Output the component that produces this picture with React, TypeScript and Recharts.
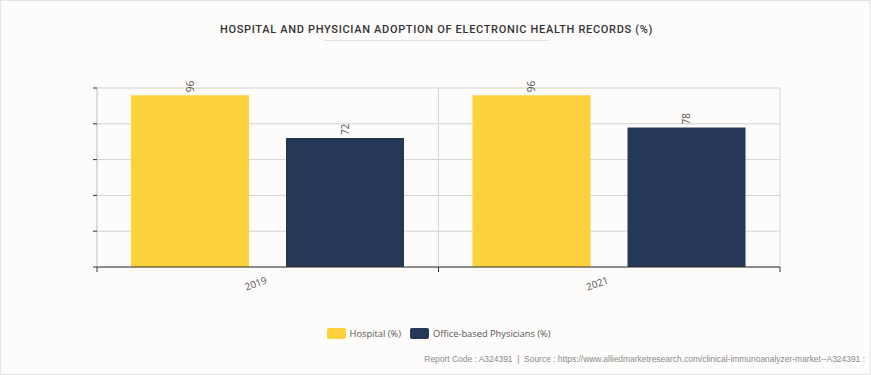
import React from 'react';
import { BarChart, Bar, XAxis, YAxis, CartesianGrid, LabelList } from 'recharts';

const categories = ['2019', '2021'];
const hospitalValues = [96, 96];
const physicianValues = [72, 78];
const yTicks = [0, 20, 40, 60, 80, 100];

const data = categories.map((c, i) => ({ year: c, hospital: hospitalValues[i], physicians: physicianValues[i] }));

const W = 871;
const H = 375;
const AX_H = 30;
const AX_W = 20;
const M = { top: 88, left: 97 - AX_W, right: 91, bottom: 108 - AX_H };
const plotW = W - 97 - M.right;
const band = plotW / categories.length;

const XTick = (props: any) => {
  const { x, y, payload, index } = props;
  const left = x - band / 2;
  return (
    <g>
      <line x1={left} x2={left} y1={y} y2={y + 5} stroke="#333" strokeWidth={1} />
      {index === categories.length - 1 ? (
        <line x1={x + band / 2} x2={x + band / 2} y1={y} y2={y + 5} stroke="#333" strokeWidth={1} />
      ) : null}
      <text
        x={x}
        y={y + 16}
        textAnchor="end"
        fontSize={10}
        fill="#555"
        fontFamily="'Open Sans', sans-serif"
        transform={`rotate(-20, ${x}, ${y + 16})`}
      >
        {payload.value}
      </text>
    </g>
  );
};

const YTick = () => <g />;

const ValueLabel = (props: any) => {
  const { x, y, width, value } = props;
  const cx = x + width / 2;
  const ty = y - 3;
  return (
    <text
      x={cx}
      y={ty}
      transform={`rotate(-90, ${cx}, ${ty})`}
      textAnchor="start"
      dominantBaseline="central"
      fontSize={10}
      fill="#555"
      fontFamily="'Open Sans', sans-serif"
    >
      {value}
    </text>
  );
};

const Legend = () => (
  <div
    style={{
      position: 'absolute',
      top: 326,
      left: 2,
      width: W,
      display: 'flex',
      justifyContent: 'center',
      alignItems: 'center',
      fontFamily: "'Open Sans', sans-serif",
      fontSize: 9.3,
      color: '#555',
    }}
  >
    <span style={{ display: 'inline-block', width: 19, height: 11, background: '#FDD13B', borderRadius: 2, marginRight: 4 }} />
    <span style={{ marginRight: 9 }}>Hospital (%)</span>
    <span style={{ display: 'inline-block', width: 19, height: 11, background: '#243757', borderRadius: 2, marginRight: 4 }} />
    <span>Office-based Physicians (%)</span>
  </div>
);

export default function App() {
  return (
    <div
      style={{
        position: 'absolute',
        left: 0,
        top: 0,
        width: W,
        height: H,
        background: '#FDFCFB',
        boxSizing: 'border-box',
        border: '1px solid #e4e4e4',
        overflow: 'hidden',
      }}
    >
      <div
        style={{
          position: 'absolute',
          top: 22,
          left: 0,
          width: W,
          textAlign: 'center',
          fontFamily: "Roboto, 'Liberation Sans', sans-serif",
          fontWeight: 500,
          fontSize: 11,
          letterSpacing: 0.68,
          color: '#333',
        }}
      >
        HOSPITAL AND PHYSICIAN ADOPTION OF ELECTRONIC HEALTH RECORDS (%)
      </div>
      <div style={{ position: 'absolute', top: 39, left: 323, width: 225, height: 1, background: '#e2e2e2' }} />
      <div style={{ position: 'absolute', left: -1, top: -1 }}>
        <BarChart width={W} height={H} data={data} margin={M} barCategoryGap={34} barGap={37}>
          <CartesianGrid
            stroke="#d2d2d2"
            verticalCoordinatesGenerator={({ offset }: any) =>
              categories.map((_, i) => offset.left + (offset.width * i) / categories.length).concat([offset.left + offset.width])
            }
          />
          <XAxis
            dataKey="year"
            axisLine={{ stroke: '#333', strokeWidth: 1 }}
            tickLine={false}
            tickSize={0}
            tickMargin={0}
            tick={<XTick />}
            interval={0}
            height={AX_H}
          />
          <YAxis
            domain={[0, 100]}
            ticks={yTicks}
            width={AX_W}
            axisLine={{ stroke: '#d2d2d2' }}
            tickLine={{ stroke: '#333' }}
            tickSize={4}
            tick={<YTick />}
          />
          <Bar dataKey="hospital" fill="#FDD13B" isAnimationActive={false}>
            <LabelList dataKey="hospital" content={<ValueLabel />} />
          </Bar>
          <Bar dataKey="physicians" fill="#243757" isAnimationActive={false}>
            <LabelList dataKey="physicians" content={<ValueLabel />} />
          </Bar>
        </BarChart>
      </div>
      <Legend />
      <div
        style={{
          position: 'absolute',
          top: 353,
          right: 5,
          fontFamily: "'Liberation Sans', Arial, sans-serif",
          fontSize: 8.45,
          color: '#8a8a8a',
          whiteSpace: 'pre',
        }}
      >
        {'Report Code : A324391  |  Source : https://www.alliedmarketresearch.com/clinical-immunoanalyzer-market--A324391 :'}
      </div>
    </div>
  );
}
